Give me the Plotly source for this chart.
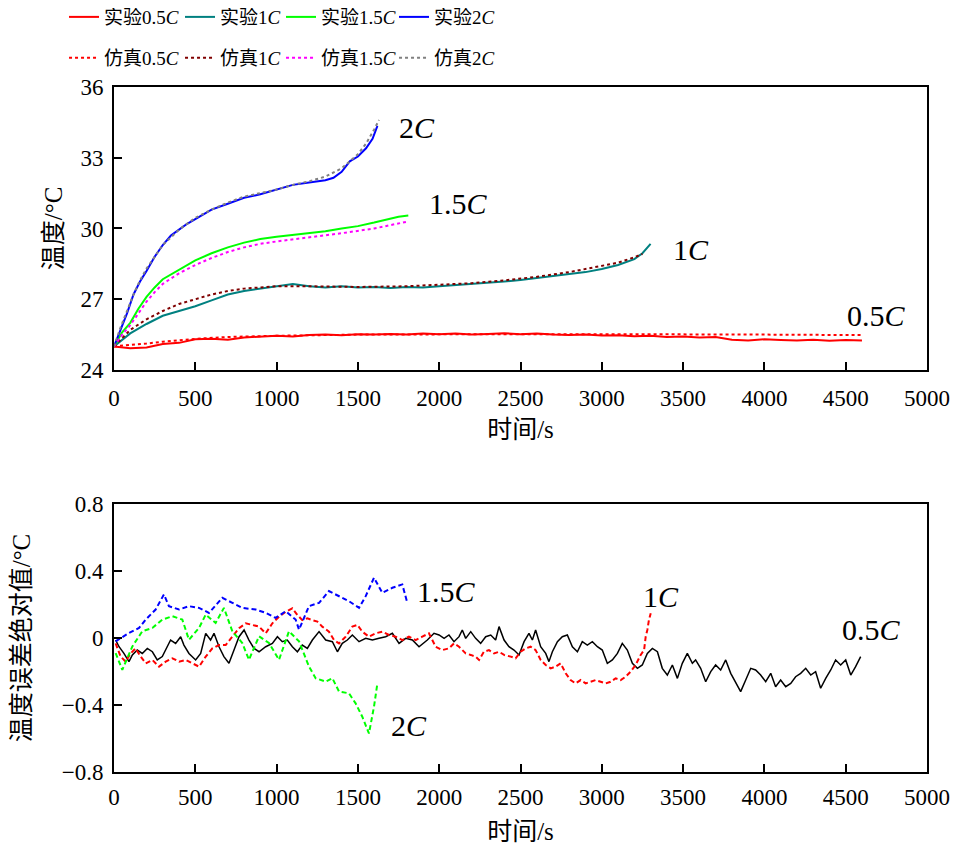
import plotly.graph_objects as go

# ---------------- top panel data (time s, temperature degC) ----------------
t_e05 = [0,100,200,300,400,500,600,700,800,900,1000,1100,1200,1300,1400,1500,1600,1700,1800,1900,2000,
         2100,2200,2300,2400,2500,2600,2700,2800,2900,3000,3100,3200,3300,3400,3500,3600,3700,3800,3900,
         4000,4100,4200,4300,4400,4500,4600]
v_e05 = [25.0,24.92,24.95,25.1,25.15,25.3,25.32,25.28,25.38,25.42,25.45,25.42,25.48,25.5,25.47,25.52,25.5,
         25.53,25.5,25.55,25.52,25.55,25.5,25.53,25.56,25.52,25.55,25.5,25.48,25.5,25.46,25.47,25.43,25.45,
         25.4,25.42,25.38,25.4,25.28,25.25,25.3,25.27,25.25,25.28,25.24,25.27,25.25]
t_s05 = [0,100,200,300,400,500,700,1000,1500,2000,2500,3000,3500,4000,4600]
v_s05 = [25.0,25.05,25.12,25.2,25.27,25.32,25.4,25.45,25.5,25.52,25.52,25.52,25.52,25.5,25.48]

t_e1 = [0,100,200,300,400,500,600,700,800,900,1000,1100,1200,1300,1400,1500,1600,1700,1800,1900,2000,
        2100,2200,2300,2400,2500,2600,2700,2800,2900,3000,3100,3200,3250,3300]
v_e1 = [25.0,25.55,25.95,26.3,26.5,26.7,26.95,27.2,27.35,27.45,27.55,27.65,27.55,27.5,27.55,27.5,27.52,
        27.48,27.52,27.5,27.55,27.6,27.62,27.7,27.75,27.82,27.9,27.98,28.08,28.15,28.28,28.45,28.7,28.95,29.35]
t_s1 = [0,100,200,300,400,500,600,700,800,900,1000,1200,1500,1800,2000,2200,2400,2600,2800,3000,3100,3200,3250]
v_s1 = [25.0,25.7,26.15,26.5,26.8,27.0,27.2,27.35,27.45,27.5,27.55,27.55,27.52,27.55,27.6,27.68,27.8,
        27.95,28.15,28.4,28.55,28.78,28.92]

t_e15 = [0,50,100,150,200,250,300,350,400,450,500,600,700,800,900,1000,1100,1200,1300,1400,1500,1600,1700,1750,1810]
v_e15 = [25.0,25.6,26.0,26.6,27.1,27.5,27.85,28.05,28.25,28.45,28.65,28.95,29.2,29.4,29.55,29.65,29.72,
         29.8,29.88,30.0,30.1,30.25,30.4,30.5,30.55]
t_s15 = [0,50,100,150,200,250,300,400,500,600,700,800,900,1000,1200,1400,1600,1810]
v_s15 = [25.0,25.5,25.9,26.4,26.9,27.3,27.65,28.1,28.45,28.75,29.0,29.2,29.35,29.45,29.62,29.8,30.0,30.3]

t_e2 = [0,40,80,120,160,200,250,300,350,400,450,500,600,700,800,900,1000,1100,1200,1300,1350,1400,1450,
        1500,1550,1590,1620]
v_e2 = [25.0,25.7,26.4,27.2,27.75,28.2,28.8,29.3,29.7,29.95,30.2,30.4,30.8,31.05,31.3,31.45,31.65,31.85,
        31.95,32.05,32.15,32.4,32.85,33.05,33.4,33.8,34.35]
t_s2 = [0,40,80,120,160,200,300,400,500,600,700,800,900,1000,1100,1200,1300,1400,1500,1550,1600,1630]
v_s2 = [25.0,25.8,26.5,27.2,27.8,28.3,29.3,29.95,30.45,30.8,31.1,31.35,31.5,31.65,31.85,32.0,32.2,32.55,
        33.15,33.6,34.2,34.6]

# ---------------- bottom panel data (time s, error degC) ----------------
t_d05 = [10,31,61,92,113,143,174,205,236,266,297,328,348,379,410,430,461,502,533,564,594,615,646,676,707,
         738,769,800,830,861,892,933,974,1005,1035,1066,1097,1128,1158,1189,1220,1261,1302,1343,1374,1404,
         1435,1466,1507,1548,1589,1630,1671,1712,1753,1794,1835,1876,1927,
         1968,1999,2030,2060,2091,2122,2142,2163,2194,2224,2255,2286,2317,2347,2368,2399,2429,2460,2491,
         2522,2552,2573,2593,2624,2655,2675,2696,2727,2757,2788,2819,2850,2880,2911,2942,2973,3003,3034,
         3065,3096,3126,3157,3188,3219,3249,3280,3311,3342,3372,3403,3434,3465,3495,3526,3557,3577,3608,
         3639,3670,3700,3731,3762,3793,3823,3854,3885,3916,3946,3977,4008,4039,4069,4100,4131,4162,4192,
         4223,4254,4285,4315,4346,4377,4408,4438,4469,4500,4531,4561,4592]
v_d05 = [-0.012,-0.052,-0.092,-0.141,-0.101,-0.072,-0.092,-0.062,-0.082,-0.131,-0.111,-0.052,-0.012,-0.032,
         0.008,-0.042,-0.092,-0.131,-0.092,0.028,-0.012,0.028,-0.052,-0.111,-0.151,-0.072,0.008,0.048,-0.012,
         -0.062,-0.082,-0.052,-0.032,0.008,-0.022,-0.012,-0.052,-0.082,-0.042,-0.062,-0.012,0.038,-0.012,
         -0.022,-0.082,-0.032,-0.012,0.018,-0.022,-0.002,-0.012,-0.002,0.008,0.028,-0.032,-0.002,-0.012,
         -0.052,-0.012,
         0.028,0.018,-0.002,0.018,-0.022,0.008,0.048,-0.002,0.038,-0.002,-0.032,0.008,0.018,-0.012,0.068,
         -0.012,-0.052,-0.072,-0.101,-0.022,0.028,-0.012,0.048,-0.052,-0.092,-0.141,-0.082,-0.022,0.008,
         0.018,-0.052,-0.082,-0.022,-0.042,-0.022,-0.052,-0.072,-0.151,-0.131,-0.092,-0.032,-0.072,-0.151,
         -0.181,-0.161,-0.092,-0.062,-0.082,-0.181,-0.221,-0.161,-0.241,-0.151,-0.092,-0.151,-0.131,-0.181,
         -0.261,-0.201,-0.161,-0.191,-0.131,-0.211,-0.261,-0.320,-0.251,-0.181,-0.191,-0.221,-0.261,-0.211,
         -0.291,-0.251,-0.291,-0.271,-0.231,-0.211,-0.181,-0.221,-0.201,-0.300,-0.241,-0.191,-0.131,-0.161,
         -0.131,-0.221,-0.171,-0.111]
t_d1 = [10,41,72,102,133,164,195,236,277,318,359,400,441,482,523,564,605,646,687,728,769,810,851,892,933,
        974,1015,1056,1097,1128,1158,1189,1220,1251,1281,1322,1353,1384,1425,1466,1497,1527,1568,1609,1650,
        1691,1732,1773,1814,1855,1896,1937,1978,2019,2060,2091,2122,2163,2194,2224,2245,2275,2306,2337,
        2368,2399,2440,2470,2501,2532,2562,2593,2624,2655,2686,2716,2747,2778,2808,2839,2870,2901,2931,
        2962,2993,3024,3054,3085,3116,3147,3177,3208,3239,3260,3270,3280,3290,3301]
v_d1 = [-0.032,-0.111,-0.141,-0.092,-0.062,-0.111,-0.151,-0.131,-0.171,-0.141,-0.121,-0.141,-0.131,-0.151,
        -0.171,-0.111,-0.062,-0.042,-0.042,0.008,0.058,0.088,0.078,0.068,0.028,0.088,0.127,0.157,0.177,
        0.137,0.107,0.117,0.107,0.098,0.068,0.038,-0.012,-0.032,0.008,0.068,0.078,0.038,0.008,0.028,0.038,
        0.018,0.008,-0.012,0.008,-0.012,0.008,0.028,-0.052,-0.072,-0.062,-0.032,-0.052,-0.092,-0.101,
        -0.111,-0.131,-0.082,-0.072,-0.092,-0.082,-0.101,-0.111,-0.121,-0.082,-0.062,-0.052,-0.072,-0.131,
        -0.161,-0.181,-0.171,-0.151,-0.211,-0.251,-0.271,-0.251,-0.271,-0.261,-0.251,-0.261,-0.271,-0.261,
        -0.241,-0.251,-0.231,-0.201,-0.161,-0.101,-0.072,0.008,0.048,0.108,0.148]
t_d15 = [10,92,154,195,256,307,338,400,461,523,584,666,728,789,871,933,994,1056,1117,1138,1199,1261,1322,
         1384,1445,1507,1548,1599,1650,1712,1773,1804]
v_d15 = [-0.02,0.03,0.06,0.11,0.17,0.26,0.19,0.17,0.19,0.18,0.15,0.24,0.21,0.18,0.17,0.15,0.12,0.16,0.11,
         0.05,0.19,0.21,0.28,0.25,0.22,0.18,0.25,0.36,0.27,0.30,0.32,0.21]
t_d2 = [10,51,113,174,236,297,359,420,461,523,564,625,676,728,789,830,892,953,1015,1076,1138,1199,1240,
        1302,1343,1384,1445,1486,1527,1568,1599,1620]
v_d2 = [-0.09,-0.19,-0.05,0.04,0.06,0.11,0.13,0.11,-0.01,0.06,0.14,0.09,0.18,0.04,-0.03,-0.13,0.01,-0.03,
        -0.13,0.04,-0.02,-0.17,-0.24,-0.26,-0.24,-0.32,-0.33,-0.39,-0.47,-0.57,-0.41,-0.27]

x_ticks = [0,500,1000,1500,2000,2500,3000,3500,4000,4500,5000]
y_ticks_top = [24,27,30,33,36]
y_ticks_bot = [-0.8,-0.4,0,0.4,0.8]
y_ticklabels_bot = ["\u22120.8", "\u22120.4", "0", "0.4", "0.8"]

FONT = "Liberation Serif, Noto Sans CJK SC, serif"
RED, TEAL, GREEN, BLUE = "#ff0000", "#008080", "#00ff00", "#0000ff"
MAROON, MAGENTA, GRAY = "#800000", "#ff00ff", "#808080"
LEG_W = [71, 56, 68, 60]

fig = go.Figure()
exp = [(t_e05, v_e05, RED, "实验0.5<i>C</i>"), (t_e1, v_e1, TEAL, "实验1<i>C</i>"),
       (t_e15, v_e15, GREEN, "实验1.5<i>C</i>"), (t_e2, v_e2, BLUE, "实验2<i>C</i>")]
sim = [(t_s05, v_s05, RED, "仿真0.5<i>C</i>"), (t_s1, v_s1, MAROON, "仿真1<i>C</i>"),
       (t_s15, v_s15, MAGENTA, "仿真1.5<i>C</i>"), (t_s2, v_s2, GRAY, "仿真2<i>C</i>")]
for i, (t, v, c, n) in enumerate(exp):
    fig.add_trace(go.Scatter(x=t, y=v, mode="lines", name=n, line=dict(color=c, width=2),
                             xaxis="x", yaxis="y", legend="legend", legendwidth=LEG_W[i]))
for i, (t, v, c, n) in enumerate(sim):
    fig.add_trace(go.Scatter(x=t, y=v, mode="lines", name=n, line=dict(color=c, width=2, dash="3px,3px"),
                             xaxis="x", yaxis="y", legend="legend2", legendwidth=LEG_W[i]))

diff = [(t_d05, v_d05, "#000000", "solid", 1.5), (t_d1, v_d1, RED, "5px,3px", 2),
        (t_d15, v_d15, BLUE, "5px,3px", 2), (t_d2, v_d2, GREEN, "5px,3px", 2)]
for t, v, c, d, w in diff:
    fig.add_trace(go.Scatter(x=t, y=v, mode="lines", showlegend=False, line=dict(color=c, width=w, dash=d),
                             xaxis="x2", yaxis="y2"))

axis_common = dict(showline=True, linecolor="black", linewidth=2, mirror=True, ticks="inside",
                   ticklen=8, tickwidth=2, tickcolor="black", showgrid=False, zeroline=False,
                   automargin=False, tickfont=dict(family=FONT, size=23, color="black"))

# page body has an 8px margin: figure is 956x845 so it fills the 964x853 window
fig.update_layout(
    width=956, height=845, plot_bgcolor="white", paper_bgcolor="white",
    margin=dict(l=106, r=37, t=79, b=81, autoexpand=False),
    font=dict(family=FONT, size=22, color="black"),
    xaxis=dict(axis_common, range=[0, 5000], tickvals=x_ticks, anchor="y", ticklabelstandoff=6,
               title=dict(text="时间/s", font=dict(family=FONT, size=25), standoff=11)),
    yaxis=dict(axis_common, range=[24, 36], tickvals=y_ticks_top, domain=[0.5869, 1], anchor="x",
               ticklabelstandoff=4,
               title=dict(text="温度/°C", font=dict(family=FONT, size=25), standoff=11)),
    xaxis2=dict(axis_common, range=[0, 5000], tickvals=x_ticks, anchor="y2", ticklabelstandoff=3,
                title=dict(text="时间/s", font=dict(family=FONT, size=25), standoff=14)),
    yaxis2=dict(axis_common, range=[-0.8, 0.8], tickvals=y_ticks_bot, ticktext=y_ticklabels_bot,
                domain=[0, 0.3912], anchor="x2", ticklabelstandoff=4,
                title=dict(text="温度误差绝对值/°C", font=dict(family=FONT, size=25), standoff=24)),
    legend=dict(orientation="h", xref="container", yref="container", x=0.0586, y=0.9893,
                xanchor="left", yanchor="middle", font=dict(family=FONT, size=19), itemwidth=30,
                bgcolor="rgba(0,0,0,0)", tracegroupgap=0),
    legend2=dict(orientation="h", xref="container", yref="container", x=0.0586, y=0.9408,
                 xanchor="left", yanchor="middle", font=dict(family=FONT, size=19), itemwidth=30,
                 bgcolor="rgba(0,0,0,0)", tracegroupgap=0),
)

ann_font = dict(family=FONT, size=30, color="black")
top_labels = [(1863, 34.3, "2<i>C</i>"), (2116, 31.08, "1.5<i>C</i>"), (3549, 29.09, "1<i>C</i>"),
              (4692, 26.29, "0.5<i>C</i>")]
for x, y, s in top_labels:
    fig.add_annotation(x=x, y=y, xref="x", yref="y", text=s, showarrow=False, font=ann_font)
bot_labels = [(2042, 0.275, "1.5<i>C</i>"), (3364, 0.245, "1<i>C</i>"), (4656, 0.048, "0.5<i>C</i>"),
              (1814, -0.525, "2<i>C</i>")]
for x, y, s in bot_labels:
    fig.add_annotation(x=x, y=y, xref="x2", yref="y2", text=s, showarrow=False, font=ann_font)

fig.write_html("out.html")
